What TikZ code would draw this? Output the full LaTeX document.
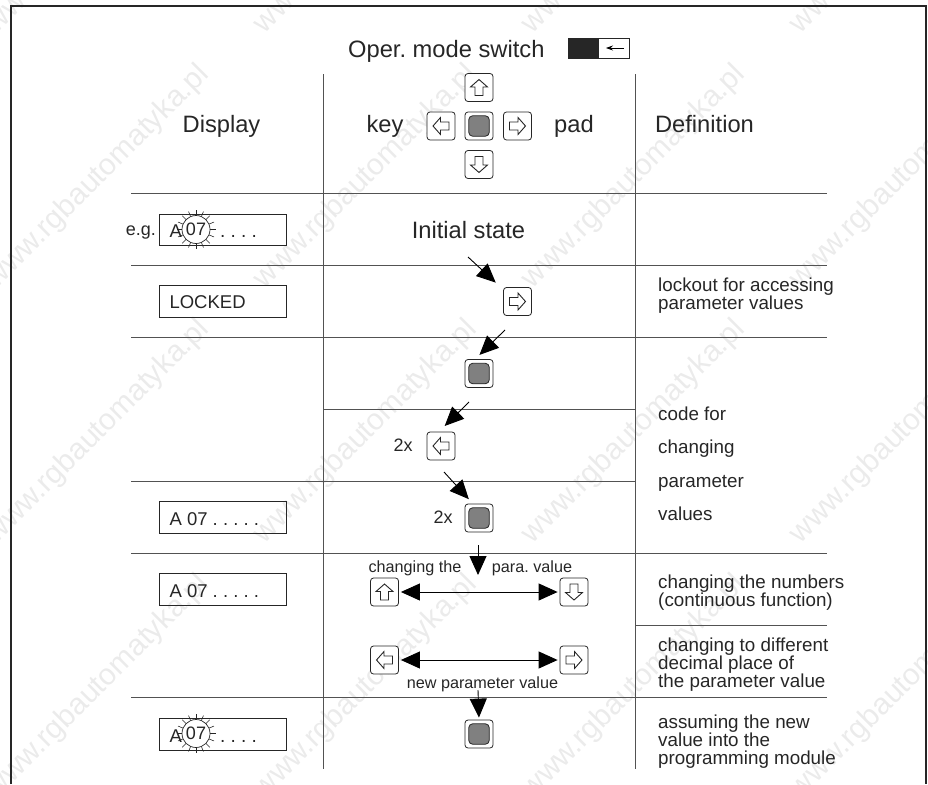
\documentclass[tikz,border=0pt]{standalone}
\usepackage{fontspec}
\setmainfont{Liberation Sans}
\frenchspacing
\usetikzlibrary{arrows.meta}
\definecolor{inkgray}{gray}{0.15}
\definecolor{keygray}{gray}{0.5}
\definecolor{markgray}{gray}{0.92}
\tikzset{
    padkey/.style={draw=inkgray, line width=0.8pt, rounded corners=3pt, fill=white, minimum size=28pt, inner sep=0pt},
    padfill/.style={draw=inkgray, line width=0.8pt, rounded corners=4pt, fill=keygray, minimum size=20.5pt, inner sep=0pt},
    dispbox/.style={draw=inkgray, line width=1pt, minimum width=127pt, minimum height=32pt, inner sep=0pt},
    rule/.style={draw=inkgray!80!white, line width=1pt},
    flow/.style={draw=black, line width=0.9pt, -{Triangle[length=19pt,width=17pt]}},
    both/.style={draw=black, line width=0.9pt, {Triangle[length=19pt,width=17pt]}-{Triangle[length=19pt,width=17pt]}, shorten <=2pt, shorten >=2pt},
    big/.style={font=\fontsize{23.7}{26}\selectfont, text=inkgray, anchor=base},
    mid/.style={font=\fontsize{18}{18}\selectfont, text=inkgray},
    small/.style={font=\fontsize{16.2}{16}\selectfont, text=inkgray, anchor=base},
    defn/.style={font=\fontsize{18.8}{18}\selectfont, text=inkgray, align=left, anchor=west},
    readout/.style={font=\fontsize{18.5}{18}\selectfont, text=inkgray, anchor=base west},
    wmark/.style={font=\fontsize{30}{30}\selectfont, text=markgray, rotate=45, anchor=east, inner sep=0pt},
}
% key with a hollow arrow, angle 0 points right
\newcommand{\arrowkey}[3]{
    \node (#1) [padkey] at (#2) {};
    \draw[inkgray, line width=0.9pt, fill=white, rotate around={#3:(#1.center)}, shift={(#1.center)}]
        (8,0) -- (0.5,-8.5) -- (0.5,-4) -- (-8,-4) -- (-8,4) -- (0.5,4) -- (0.5,8.5) -- cycle;
}
\newcommand{\midkey}[2]{
    \node (#1) [padkey] at (#2) {};
    \node (#1fill) [padfill] at (#1) {};
}
% flashing figures in the display
\newcommand{\flashed}[2]{
    \foreach \ang in {0,22.5,...,337.5} {
        \draw[inkgray, line width=0.6pt] (#2) ++(\ang:14) -- ++(\ang:5.5);
    }
    \node (#1) [circle, draw=inkgray, line width=0.7pt, fill=white, minimum size=28pt, inner sep=0pt, font=\fontsize{18}{18}\selectfont, text=inkgray] at (#2) {07};
}
\begin{document}
\begin{tikzpicture}[x=1pt, y=-1pt]
    \useasboundingbox (0,0) rectangle (928,784);

    % Watermark
    \foreach \i in {0,...,3} {
        \foreach \j in {0,...,3} {
            \pgfmathsetmacro{\wx}{205+268*\i}
            \pgfmathsetmacro{\wy}{-185+255*\j}
            \node (mark\i\j) [wmark] at (\wx,\wy) {www.rgbautomatyka.pl};
        }
    }

    % Frame
    \draw[inkgray, line width=1.4pt] (11,784) -- (11,6) -- (926,6) -- (926,784);

    % Rules
    \foreach \y in {193,265,337,553,697} {
        \draw[rule] (131,\y) -- (827,\y);
    }
    \draw[rule] (131,481) -- (635,481);
    \draw[rule] (323,409) -- (635,409);
    \draw[rule] (635,625) -- (827,625);
    \draw[rule] (323,74) -- (323,769);
    \draw[rule] (635,74) -- (635,769);

    % Head
    \node (title) [big, anchor=base west, inner sep=0pt] at (348,57.5) {Oper. mode switch};
    \node (switch) [draw=inkgray, line width=0.7pt, minimum width=61pt, minimum height=20pt, inner sep=0pt] at (598.5,48) {};
    \fill[black!85] (switch.north west) rectangle (599,58);
    \draw[black, line width=0.7pt, -{Stealth[length=7pt,width=5pt]}] (624,48) -- (606,48);
    \node (display) [big] at (221.5,132) {Display};
    \node (keyword) [big] at (385,132) {key};
    \node (padword) [big] at (574,132) {pad};
    \node (definition) [big] at (704.5,132) {Definition};

    % Key pad
    \arrowkey{kup}{479,87.5}{90}
    \arrowkey{kleft}{441,126}{180}
    \midkey{kmid}{479,126}
    \arrowkey{kright}{517.5,126}{0}
    \arrowkey{kdown}{479,164.5}{-90}

    % Displays
    \node (eg) [mid, anchor=base east, inner sep=0pt] at (156,235) {e.g.};
    \node (disp1) [dispbox, minimum height=31pt] at (222.5,229.5) {};
    \node (disp1a) [readout] at (166,237) {A};
    \node (disp1d) [readout, font=\fontsize{19}{19}\selectfont] at (216.5,237) {. . . .};
    \flashed{disp1n}{196,229.5}
    \node (disp2) [dispbox] at (222.5,301.5) {};
    \node (disp2t) [readout] at (166,308) {LOCKED};
    \node (disp3) [dispbox] at (222.5,517.5) {};
    \node (disp3t) [readout] at (166,525) {A 07 . . . . .};
    \node (disp4) [dispbox] at (222.5,589.5) {};
    \node (disp4t) [readout] at (166,597) {A 07 . . . . .};
    \node (disp5) [dispbox] at (222.5,734) {};
    \node (disp5a) [readout] at (166,742) {A};
    \node (disp5d) [readout, font=\fontsize{19}{19}\selectfont] at (216.5,742) {. . . .};
    \flashed{disp5n}{196,733.5}

    % Steps
    \node (initial) [big] at (468.5,238) {Initial state};
    \arrowkey{stepa}{517.5,301.5}{0}
    \midkey{stepb}{479,373.5}
    \arrowkey{stepc}{441,446}{180}
    \node (twoa) [mid] at (403,445) {2x};
    \midkey{stepd}{479,518}
    \node (twob) [mid] at (443,517) {2x};
    \arrowkey{upkey}{384.5,592}{90}
    \arrowkey{downkey}{574,592}{-90}
    \arrowkey{leftkey}{384.5,660}{180}
    \arrowkey{rightkey}{574,660}{0}
    \midkey{stepe}{479,734}
    \node (chga) [small] at (415,572) {changing the};
    \node (chgb) [small] at (532,572) {para. value};
    \node (newval) [small] at (482.5,688) {new parameter value};

    % Connectors
    \coordinate (froma) at (468,257);
    \coordinate (fromb) at (505,330);
    \coordinate (fromc) at (469,402);
    \coordinate (fromd) at (444,472);
    \coordinate (frome) at (478,545);
    \coordinate (tipe) at (478,575);
    \coordinate (fromf) at (478,690);
    \draw[flow, shorten >=10pt] (froma) -- (stepa.140);
    \draw[flow, shorten >=6pt] (fromb) -- (stepb.105);
    \draw[flow, shorten >=8pt] (fromc) -- (stepc.98);
    \draw[flow, shorten >=6pt] (fromd) -- (stepd.113);
    \draw[flow] (frome) -- (tipe);
    \draw[flow, shorten >=2pt] (fromf) -- (stepe.north);
    \draw[both] (upkey) -- (downkey);
    \draw[both] (leftkey) -- (rightkey);

    % Definitions
    \node (defa) [defn] at (654.7,296) {lockout for accessing\\parameter values};
    \node (defb) [defn, anchor=base west] at (654.7,420) {code for};
    \node (defc) [defn, anchor=base west] at (654.7,453) {changing};
    \node (defd) [defn, anchor=base west] at (654.7,487) {parameter};
    \node (defe) [defn, anchor=base west] at (654.7,520) {values};
    \node (deff) [defn] at (654.7,593) {changing the numbers\\(continuous function)};
    \node (defg) [defn] at (654.7,665) {changing to different\\decimal place of\\the parameter value};
    \node (defh) [defn] at (654.7,742) {assuming the new\\value into the\\programming module};
\end{tikzpicture}
\end{document}
